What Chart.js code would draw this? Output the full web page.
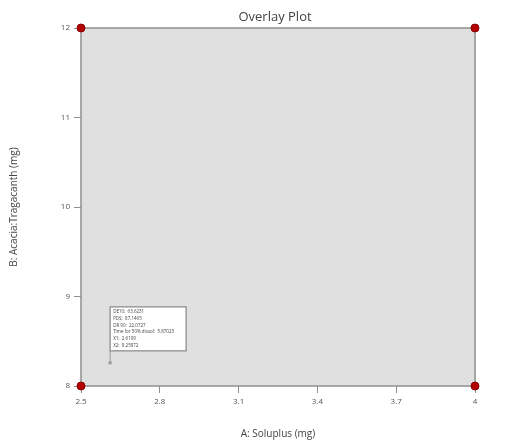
<!DOCTYPE html>
<html>
<head>
<meta charset="utf-8">
<script src="https://cdn.jsdelivr.net/npm/chart.js@4"></script>
<style>
  html, body { margin: 0; padding: 0; background: #fff; }
  #wrap { width: 505px; height: 445px; }
</style>
</head>
<body>
<div id="wrap"><canvas id="overlayChart"></canvas></div>
<script>
// design space corners (A: Soluplus, B: Acacia:Tragacanth)
const cornerX = [2.5, 4, 2.5, 4];
const cornerY = [8, 8, 12, 12];
const xTicks = [2.5, 2.8, 3.1, 3.4, 3.7, 4];
const yTicks = [8, 9, 10, 11, 12];

// flag point and its labels
const flagX = 2.6109;
const flagY = 8.25872;
const flagLines = [
    'DE10:  63.6231',
    'PDS:  87.1465',
    'DR 90:  22.0727',
    'Time for 50% dissol:  5.87023',
    'X1:  2.6109',
    'X2:  8.25872'
];

// grey region + frame + flag + title centred on plot
const overlayPlugin = {
    id: 'overlay',
    beforeDatasetsDraw(chart) {
        const { ctx, chartArea: a } = chart;
        ctx.save();
        ctx.fillStyle = '#e0e0e0';
        ctx.fillRect(a.left, a.top, a.right - a.left, a.bottom - a.top);
        ctx.strokeStyle = '#8f8f8f';
        ctx.lineWidth = 1.5;
        ctx.strokeRect(a.left, a.top, a.right - a.left, a.bottom - a.top);

        const px = chart.scales.x.getPixelForValue(flagX);
        const py = chart.scales.y.getPixelForValue(flagY);
        const boxW = 76, boxH = 44;
        const boxL = px, boxB = py - 12;
        ctx.strokeStyle = '#9a9a9a';
        ctx.lineWidth = 1;
        ctx.beginPath();
        ctx.moveTo(px, py);
        ctx.lineTo(px, boxB);
        ctx.stroke();
        ctx.fillStyle = '#9a9a9a';
        ctx.fillRect(px - 1.5, py - 1.5, 3, 3);
        ctx.fillStyle = '#ffffff';
        ctx.fillRect(boxL, boxB - boxH, boxW, boxH);
        ctx.lineWidth = 1.5;
        ctx.strokeRect(boxL, boxB - boxH, boxW, boxH);
        ctx.fillStyle = '#444';
        ctx.font = '4.5px "Open Sans", sans-serif';
        ctx.textBaseline = 'middle';
        flagLines.forEach((t, i) => {
            ctx.fillText(t, boxL + 3, boxB - boxH + 5 + i * 6.7);
        });

        ctx.fillStyle = '#444';
        ctx.font = '13px "Open Sans", sans-serif';
        ctx.textAlign = 'center';
        ctx.fillText('Overlay Plot', (a.left + a.right) / 2 - 3, 17);
        ctx.restore();
    }
};

const ctx = document.getElementById('overlayChart').getContext('2d');
new Chart(ctx, {
    type: 'scatter',
    data: {
        datasets: [{
            data: cornerX.map((x, i) => ({ x: x, y: cornerY[i] })),
            backgroundColor: '#b30000',
            borderColor: '#8a0000',
            borderWidth: 1,
            pointRadius: 4,
            clip: false
        }]
    },
    options: {
        responsive: true,
        maintainAspectRatio: false,
        animation: false,
        layout: { padding: { top: 28, right: 30, bottom: 0, left: 0 } },
        plugins: {
            legend: { display: false },
            tooltip: { enabled: false },
            title: { display: false }
        },
        scales: {
            x: {
                type: 'linear',
                min: 2.5,
                max: 4,
                afterBuildTicks(s) { s.ticks = xTicks.map(v => ({ value: v })); },
                afterFit(s) { s.height = 59; },
                grid: { drawOnChartArea: false, drawTicks: true, tickLength: 7, color: '#8f8f8f' },
                border: { display: false },
                ticks: { color: '#555', font: { family: 'Open Sans', size: 8 }, padding: 4, maxRotation: 0,
                         callback: v => String(v) },
                title: { display: true, text: 'A: Soluplus (mg)', color: '#444',
                         font: { family: 'Open Sans', size: 10 }, padding: { top: 0, bottom: 5 } }
            },
            y: {
                type: 'linear',
                min: 8,
                max: 12,
                afterBuildTicks(s) { s.ticks = yTicks.map(v => ({ value: v })); },
                afterFit(s) { s.width = 81; },
                grid: { drawOnChartArea: false, drawTicks: true, tickLength: 7, color: '#8f8f8f' },
                border: { display: false },
                ticks: { color: '#555', font: { family: 'Open Sans', size: 8 }, padding: 4 },
                title: { display: true, text: 'B: Acacia:Tragacanth (mg)', color: '#444',
                         font: { family: 'Open Sans', size: 10 }, padding: { top: 8, bottom: 0 } }
            }
        }
    },
    plugins: [overlayPlugin]
});
</script>
</body>
</html>
